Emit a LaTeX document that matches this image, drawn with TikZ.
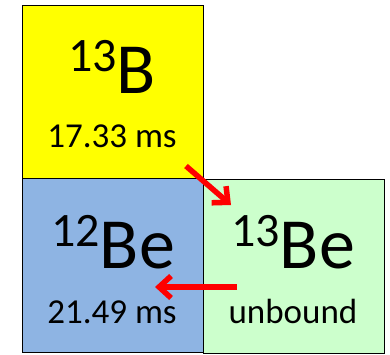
\documentclass[tikz,border=0pt]{standalone}
\usepackage{fontspec}
\setmainfont{Carlito}
\usetikzlibrary{arrows.meta}
\definecolor{cyel}{HTML}{FFFF00}
\definecolor{cblue}{HTML}{8EB4E3}
\definecolor{cgreen}{HTML}{CCFFCC}
\definecolor{cred}{HTML}{FF0000}
\begin{document}
\begin{tikzpicture}[x=1pt,y=-1pt,
  cell/.style={draw=black,line width=1.4pt,minimum width=181pt,minimum height=174pt,inner sep=0pt,anchor=north west},
  elem/.style={inner sep=0pt,anchor=base,font=\fontsize{72}{72}\selectfont},
  life/.style={inner sep=0pt,anchor=base,font=\fontsize{35}{35}\selectfont},
  decay/.style={draw=cred,line width=5.5pt,-{Straight Barb[length=12pt,width=22pt]}}]
\useasboundingbox (0,0) rectangle (390,355);
\node[cell,fill=cyel] (b13) at (22,5) {};
\node[cell,fill=cblue] (be12) at (22,178) {};
\node[cell,fill=cgreen] (be13) at (203,179) {};
\node[elem] (tb13) at (112,94) {\fontsize{48}{48}\selectfont\raisebox{22pt}{13}\fontsize{72}{72}\selectfont B};
\node[life] (lb13) at (112,148) {17.33 ms};
\node[elem] (tbe12) at (113,268) {\fontsize{48}{48}\selectfont\raisebox{22pt}{12}\fontsize{72}{72}\selectfont Be};
\node[life] (lbe12) at (112,323) {21.49 ms};
\node[elem] (tbe13) at (293,268) {\fontsize{48}{48}\selectfont\raisebox{22pt}{13}\fontsize{72}{72}\selectfont Be};
\node[life] (lbe13) at (293,323) {unbound};
\coordinate (a1s) at (186,166);
\coordinate (a1e) at (231,205);
\coordinate (a2s) at (237,287);
\coordinate (a2e) at (155,287);
\draw[decay] (a1s) -- (a1e);
\draw[decay] (a2s) -- (a2e);
\end{tikzpicture}
\end{document}
